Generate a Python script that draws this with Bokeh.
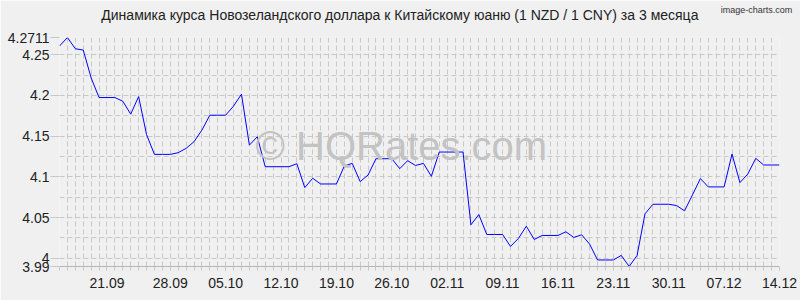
from bokeh.plotting import figure
from bokeh.models import Range1d, FixedTicker, Label, LinearAxis
from bokeh.embed import file_html
from bokeh.resources import INLINE

title_text = "Динамика курса Новозеландского доллара к Китайскому юаню (1 NZD / 1 CNY) за 3 месяца"
credit_text = "image-charts.com"

rates = [
    4.2606, 4.2711, 4.2573, 4.2557, 4.2215, 4.1974, 4.1974, 4.1974, 4.1929, 4.1770,
    4.1986, 4.1520, 4.1276, 4.1276, 4.1276, 4.1297, 4.1350, 4.1432, 4.1574, 4.1757,
    4.1757, 4.1757, 4.1870, 4.2015, 4.1390, 4.1493, 4.1125, 4.1125, 4.1125, 4.1125,
    4.1162, 4.0868, 4.0983, 4.0913, 4.0913, 4.0913, 4.1134, 4.1166, 4.0942, 4.1023,
    4.1223, 4.1223, 4.1223, 4.1101, 4.1199, 4.1140, 4.1166, 4.1007, 4.1305, 4.1305,
    4.1305, 4.1305, 4.0412, 4.0538, 4.0293, 4.0293, 4.0293, 4.0147, 4.0244, 4.0395,
    4.0232, 4.0281, 4.0281, 4.0281, 4.0326, 4.0257, 4.0289, 4.0175, 3.9980, 3.9980,
    3.9980, 4.0036, 3.9900, 4.0036, 4.0546, 4.0664, 4.0664, 4.0664, 4.0648, 4.0583,
    4.0779, 4.0979, 4.0877, 4.0877, 4.0877, 4.1280, 4.0930, 4.1036, 4.1227, 4.1146,
    4.1146, 4.1146,
]
day_index = list(range(len(rates)))

x_tick_pos = [6, 14, 21, 28, 35, 42, 49, 56, 63, 70, 77, 84, 91]
x_tick_labels = ["21.09", "28.09", "05.10", "12.10", "19.10", "26.10", "02.11",
                 "09.11", "16.11", "23.11", "30.11", "07.12", "14.12"]

y_ticks = [3.99, 4.0, 4.05, 4.1, 4.15, 4.2, 4.25, 4.2711]
y_tick_labels = ["3.99", "4", "4.05", "4.1", "4.15", "4.2", "4.25", "4.2711"]
y_grid = [3.99, 4.0, 4.025, 4.05, 4.075, 4.1, 4.125, 4.15, 4.175, 4.2, 4.225, 4.25, 4.2711]

BG = "#f0f0f0"
GRID = "#c8c8c8"
TXT = "#222222"
FONT = "Liberation Sans"

W, H = 800, 300
FL, FR, FT, FB = 59, 21, 37, 34

p = figure(width=W, height=H, output_backend="svg", toolbar_location=None,
           x_range=Range1d(0, len(rates) - 1), y_range=Range1d(min(y_ticks), max(y_ticks)),
           min_border_left=FL, min_border_right=FR, min_border_top=FT, min_border_bottom=FB,
           background_fill_color=BG, border_fill_color=BG, outline_line_color=None)
p.title.text = ""

# helper: canvas x pixel -> data x
px_per_unit = (W - FL - FR) / (len(rates) - 1)
def cx(px):
    return round((px - FL) / px_per_unit, 2)

# header texts drawn as labels of two bare axes above the frame
def header_axis(text, center_px, size, color, standoff):
    t = cx(center_px)
    ax = LinearAxis(ticker=FixedTicker(ticks=[t]), major_label_overrides={t: text})
    ax.axis_line_color = None
    ax.major_tick_line_color = None
    ax.minor_tick_line_color = None
    ax.major_tick_in = 0
    ax.major_tick_out = 0
    ax.major_label_standoff = standoff
    ax.major_label_text_font = FONT
    ax.major_label_text_font_size = size
    ax.major_label_text_color = color
    return ax

p.add_layout(header_axis(title_text, 399.4, "14px", TXT, 15), "above")
p.add_layout(header_axis(credit_text, 756, "9px", "#333333", -11), "above")

# grids
p.xgrid.ticker = FixedTicker(ticks=day_index)
p.ygrid.ticker = FixedTicker(ticks=y_grid)
for g in (p.xgrid, p.ygrid):
    g.grid_line_color = GRID
    g.grid_line_dash = "5 3"
    g.grid_line_width = 1

# x axis
xa = p.below[0]
xa.ticker = FixedTicker(ticks=x_tick_pos, minor_ticks=day_index)
xa.major_label_overrides = {t: l for t, l in zip(x_tick_pos, x_tick_labels)}
xa.axis_line_color = "#b4b4b4"
xa.major_tick_line_color = GRID
xa.minor_tick_line_color = GRID
xa.major_tick_in = 0
xa.minor_tick_in = 0
xa.major_tick_out = 11
xa.minor_tick_out = 11
xa.major_tick_line_dash = "0 7 4 10"
xa.minor_tick_line_dash = "0 7 4 10"
xa.major_label_standoff = 0
xa.major_label_text_font = FONT
xa.major_label_text_font_size = "14px"
xa.major_label_text_color = TXT

# y axis
ya = p.left[0]
ya.ticker = FixedTicker(ticks=y_ticks)
ya.major_label_overrides = {t: l for t, l in zip(y_ticks, y_tick_labels)}
ya.axis_line_color = None
ya.major_tick_line_color = GRID
ya.major_tick_in = 0
ya.major_tick_out = 9
ya.minor_tick_line_color = None
ya.major_label_standoff = 1
ya.major_label_text_font = FONT
ya.major_label_text_font_size = "14px"
ya.major_label_text_color = TXT

# watermark
p.add_layout(Label(x=43.2, y=4.138, text="© HQRates.com", text_align="center",
                   text_baseline="middle", text_font=FONT, text_font_size="40px",
                   text_color="#c3c3c3"))

p.line(day_index, rates, line_color="#0000ff", line_width=1)

open("out.html", "w").write(file_html(p, INLINE))
